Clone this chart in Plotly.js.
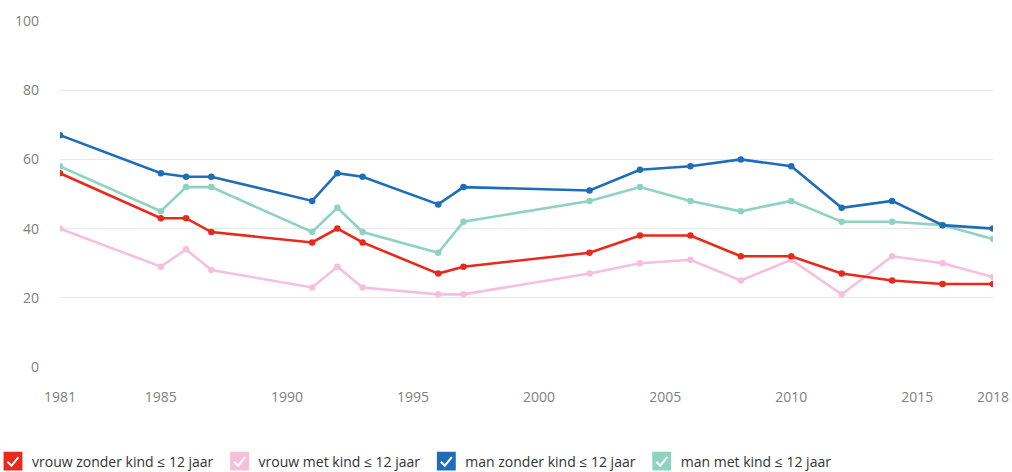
<!DOCTYPE html>
<html>
<head>
<meta charset="utf-8">
<script src="https://cdn.plot.ly/plotly-3.0.1.min.js"></script>
<style>
html,body{margin:0;padding:0;background:#fff;}
#chart{width:1012px;height:472px;}
</style>
</head>
<body>
<div id="chart"></div>
<script>
const years = [1981, 1985, 1986, 1987, 1991, 1992, 1993, 1996, 1997, 2002, 2004, 2006, 2008, 2010, 2012, 2014, 2016, 2018];
const vrouwZonderKind = [56, 43, 43, 39, 36, 40, 36, 27, 29, 33, 38, 38, 32, 32, 27, 25, 24, 24];
const vrouwMetKind    = [40, 29, 34, 28, 23, 29, 23, 21, 21, 27, 30, 31, 25, 31, 21, 32, 30, 26];
const manZonderKind   = [67, 56, 55, 55, 48, 56, 55, 47, 52, 51, 57, 58, 60, 58, 46, 48, 41, 40];
const manMetKind      = [58, 45, 52, 52, 39, 46, 39, 33, 42, 48, 52, 48, 45, 48, 42, 42, 41, 37];
const seriesNames = ['vrouw zonder kind ≤ 12 jaar', 'vrouw met kind ≤ 12 jaar', 'man zonder kind ≤ 12 jaar', 'man met kind ≤ 12 jaar'];
const xTickVals = [1981, 1985, 1990, 1995, 2000, 2005, 2010, 2015, 2018];
const yTickVals = [0, 20, 40, 60, 80, 100];

const colors = ['#e8291c', '#f6bfdc', '#1f6db8', '#8ed3c2'];
const seriesData = [vrouwZonderKind, vrouwMetKind, manZonderKind, manMetKind];

const order = [1, 0, 3, 2];
const traces = [];
order.forEach(i => {
  traces.push({
    x: years, y: seriesData[i], type: 'scatter', mode: 'lines+markers',
    name: seriesNames[i], showlegend: false,
    line: {color: colors[i], width: 2.6},
    marker: {color: colors[i], size: 6.5},
    hoverinfo: 'x+y+name'
  });
});
[0, 1, 2, 3].forEach(i => {
  traces.push({
    x: [null], y: [null], type: 'scatter', mode: 'markers',
    name: seriesNames[i], showlegend: true,
    marker: {color: colors[i], size: 16, symbol: 'square'}
  });
});

const font = 'Open Sans, sans-serif';
const layout = {
  width: 1012, height: 472,
  margin: {l: 60, r: 19, t: 21, b: 105},
  paper_bgcolor: '#fff', plot_bgcolor: '#fff',
  font: {family: font, color: '#777', size: 14},
  showlegend: true,
  legend: {
    orientation: 'h', xref: 'container', yref: 'container',
    x: 0, y: 0.056, xanchor: 'left', yanchor: 'top',
    font: {family: font, size: 14, color: '#333'},
    itemclick: false, itemdoubleclick: false, tracegroupgap: 0
  },
  xaxis: {
    range: [1981, 2018], tickvals: xTickVals, ticktext: xTickVals.map(String),
    showgrid: false, zeroline: false, showline: false, ticks: '', automargin: false,
    ticklabelstandoff: 20, tickfont: {family: font, size: 14, color: '#808080'},
    fixedrange: true
  },
  yaxis: {
    range: [0, 100], tickvals: yTickVals, showgrid: true, gridcolor: '#e8e8e8', gridwidth: 1,
    zeroline: false, showline: false, ticks: '', ticklabelstandoff: 20, automargin: false,
    tickfont: {family: font, size: 14, color: '#808080'}, fixedrange: true
  },
  hovermode: 'closest'
};

Plotly.newPlot('chart', traces, layout, {displayModeBar: false, responsive: false}).then(gd => {
  const NS = 'http://www.w3.org/2000/svg';
  gd.querySelectorAll('.legend .traces').forEach(g => {
    const lp = g.querySelector('.legendpoints');
    const pt = lp && lp.querySelector('path.scatterpts');
    const tr = (pt && pt.getAttribute('transform')) || 'translate(20,0)';
    if (pt) pt.setAttribute('transform', tr + ' scale(1.18)');
    if (lp) {
      lp.setAttribute('transform', 'translate(-7,0)');
      const p = document.createElementNS(NS, 'path');
      p.setAttribute('d', 'M-5.5,0.5 L-1.5,4.5 L5.5,-4');
      p.setAttribute('transform', tr);
      p.setAttribute('fill', 'none');
      p.setAttribute('stroke', '#fff');
      p.setAttribute('stroke-width', '2');
      lp.appendChild(p);
    }
    const t = g.querySelector('text.legendtext');
    if (t) {
      const x = parseFloat(t.getAttribute('x')) || 40;
      t.setAttribute('x', x - 8);
    }
  });
});
</script>
</body>
</html>
